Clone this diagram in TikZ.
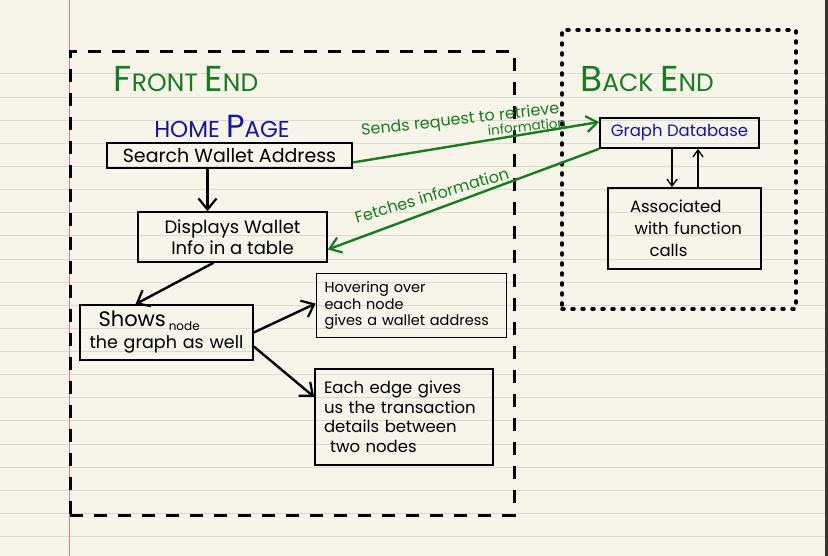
\documentclass[tikz,border=0pt]{standalone}
\usepackage{fontspec}
\setmainfont{Poppins}
\usetikzlibrary{arrows.meta,calc}
\definecolor{paper}{RGB}{247,244,233}
\definecolor{ruleline}{RGB}{220,219,210}
\definecolor{marginred}{RGB}{236,120,140}
\definecolor{pengreen}{RGB}{22,125,32}
\definecolor{penblue}{RGB}{22,22,165}
\newcommand\fsz[2]{\fontsize{#1}{#2}\selectfont}
\tikzset{
  nbox/.style={draw=black, line width=1.6pt, inner sep=0pt, text=black, align=center},
  blackarrow/.style={line width=2.4pt, -{Straight Barb[length=11pt,width=18pt,line width=2.2pt]}},
  thinarrow/.style={line width=1.4pt, -{Straight Barb[length=7pt,width=10pt,line width=1.3pt]}},
  greenarrow/.style={draw=pengreen, line width=2.4pt},
  gfwd/.style={-{Straight Barb[length=11pt,width=16pt,line width=2.2pt]}},
  gback/.style={{Straight Barb[length=11pt,width=16pt,line width=2.2pt]}-},
  edgelabel/.style={text=pengreen, inner sep=0.5pt},
  fedash/.style={draw=black, line width=3pt, dash pattern=on 13pt off 11pt},
  bedot/.style={draw=black, line width=3.5pt, line cap=round, dash pattern=on 2pt off 8pt},
  titletext/.style={text=pengreen, inner sep=0pt},
}
\begin{document}
\begin{tikzpicture}[x=1pt,y=-1pt]
\useasboundingbox (0,0) rectangle (828,556);
\fill[paper] (0,0) rectangle (828,556);
\foreach \k in {0,...,20} \draw[ruleline, line width=1pt] (0,{74+23.13*\k}) -- (825,{74+23.13*\k});
\draw[marginred, line width=1.3pt] (69.5,0) -- (69.5,556);
\fill[black!80] (825,0) rectangle (828,556);

% boundaries
\node[fedash, minimum width=444pt, minimum height=463pt, inner sep=0pt] (fe) at (292,283.5) {};
\node[bedot, minimum width=234pt, minimum height=279pt, inner sep=0pt] (be) at (679,169.5) {};

% titles
\node[titletext] (fetitle) at (186,79) {\fsz{36}{36}F\fsz{25}{25}RONT\ \fsz{36}{36}E\fsz{25}{25}ND};
\node[titletext, text=penblue] (hometitle) at (222,126) {\fsz{23}{23}HOME \fsz{32}{32}P\fsz{23}{23}AGE};
\node[titletext] (betitle) at (647,79) {\fsz{36}{36}B\fsz{25}{25}ACK \fsz{36}{36}E\fsz{25}{25}ND};

% front end nodes
\node[nbox, minimum width=245pt, minimum height=25pt, font=\fsz{19}{20}] (search) at (229.5,155.5) {Search Wallet Address};
\node[nbox, minimum width=189pt, minimum height=50pt, font=\fsz{18}{21}] (disp) at (232.5,237) {Displays Wallet\\Info in a table};
\node[nbox, minimum width=173pt, minimum height=55pt, font=\fsz{17.5}{22}, align=left, text width=154pt] (shows) at (166.5,332.5) {\hspace*{9pt}{\fsz{21}{22}Shows}\,\raisebox{-4pt}{\fsz{12}{12}node}\\the graph as well};
\node[nbox, minimum width=190pt, minimum height=64pt, font=\fsz{14.5}{16.5}, align=left, text width=174pt] (hover) at (411.5,305.5) {Hovering over\\each node\\gives a wallet address};
\node[nbox, minimum width=178pt, minimum height=96pt, font=\fsz{16.5}{19.5}, align=left, text width=160pt] (edge) at (404,417) {Each edge gives\\us the transaction\\details between\\\hspace*{6pt}two nodes};

% back end nodes
\node[nbox, minimum width=159pt, minimum height=30pt, font=\fsz{16.5}{18}, text=penblue] (gdb) at (679.5,133) {Graph Database};
\node[nbox, minimum width=153pt, minimum height=81pt, font=\fsz{16.5}{22}, align=left, text width=116pt] (assoc) at (684.5,228.5) {\hspace*{3.5pt}Associated\\\hspace*{8pt}with function\\\hspace*{23pt}calls};

% black connectors
\draw[blackarrow] ([xshift=-22pt]search.south) -- ([xshift=-25pt]disp.north);
\draw[blackarrow] ([xshift=-19pt]disp.south) -- ([xshift=-31pt]shows.north);
\draw[blackarrow] (shows.east) -- ([yshift=2pt]hover.west);
\draw[blackarrow] ([yshift=-14pt]shows.east) -- ([yshift=20pt]edge.west);
\draw[thinarrow] ([xshift=-7.5pt]gdb.south) -- ([xshift=-12.5pt]assoc.north);
\draw[thinarrow] ([xshift=13.5pt]assoc.north) -- ([xshift=18.5pt]gdb.south);

% green connectors
\draw[greenarrow, gfwd] ([yshift=-7pt]search.east) --
  node[edgelabel, sloped, above, pos=0.45, yshift=14pt, rotate=-3, font=\fsz{16}{16}] (sendlbl) {Sends request to retrieve}
  node[edgelabel, sloped, above, pos=0.71, yshift=0.5pt, rotate=-3, font=\fsz{13.5}{13.5}] (infolbl) {information}
  ([yshift=11pt]gdb.west);
\draw[greenarrow, gback] ([yshift=-12.5pt]disp.east) --
  node[edgelabel, sloped, above, pos=0.4, yshift=7pt, rotate=-4, font=\fsz{16}{16}] (fetchlbl) {Fetches information}
  (gdb.south west);
\end{tikzpicture}
\end{document}
